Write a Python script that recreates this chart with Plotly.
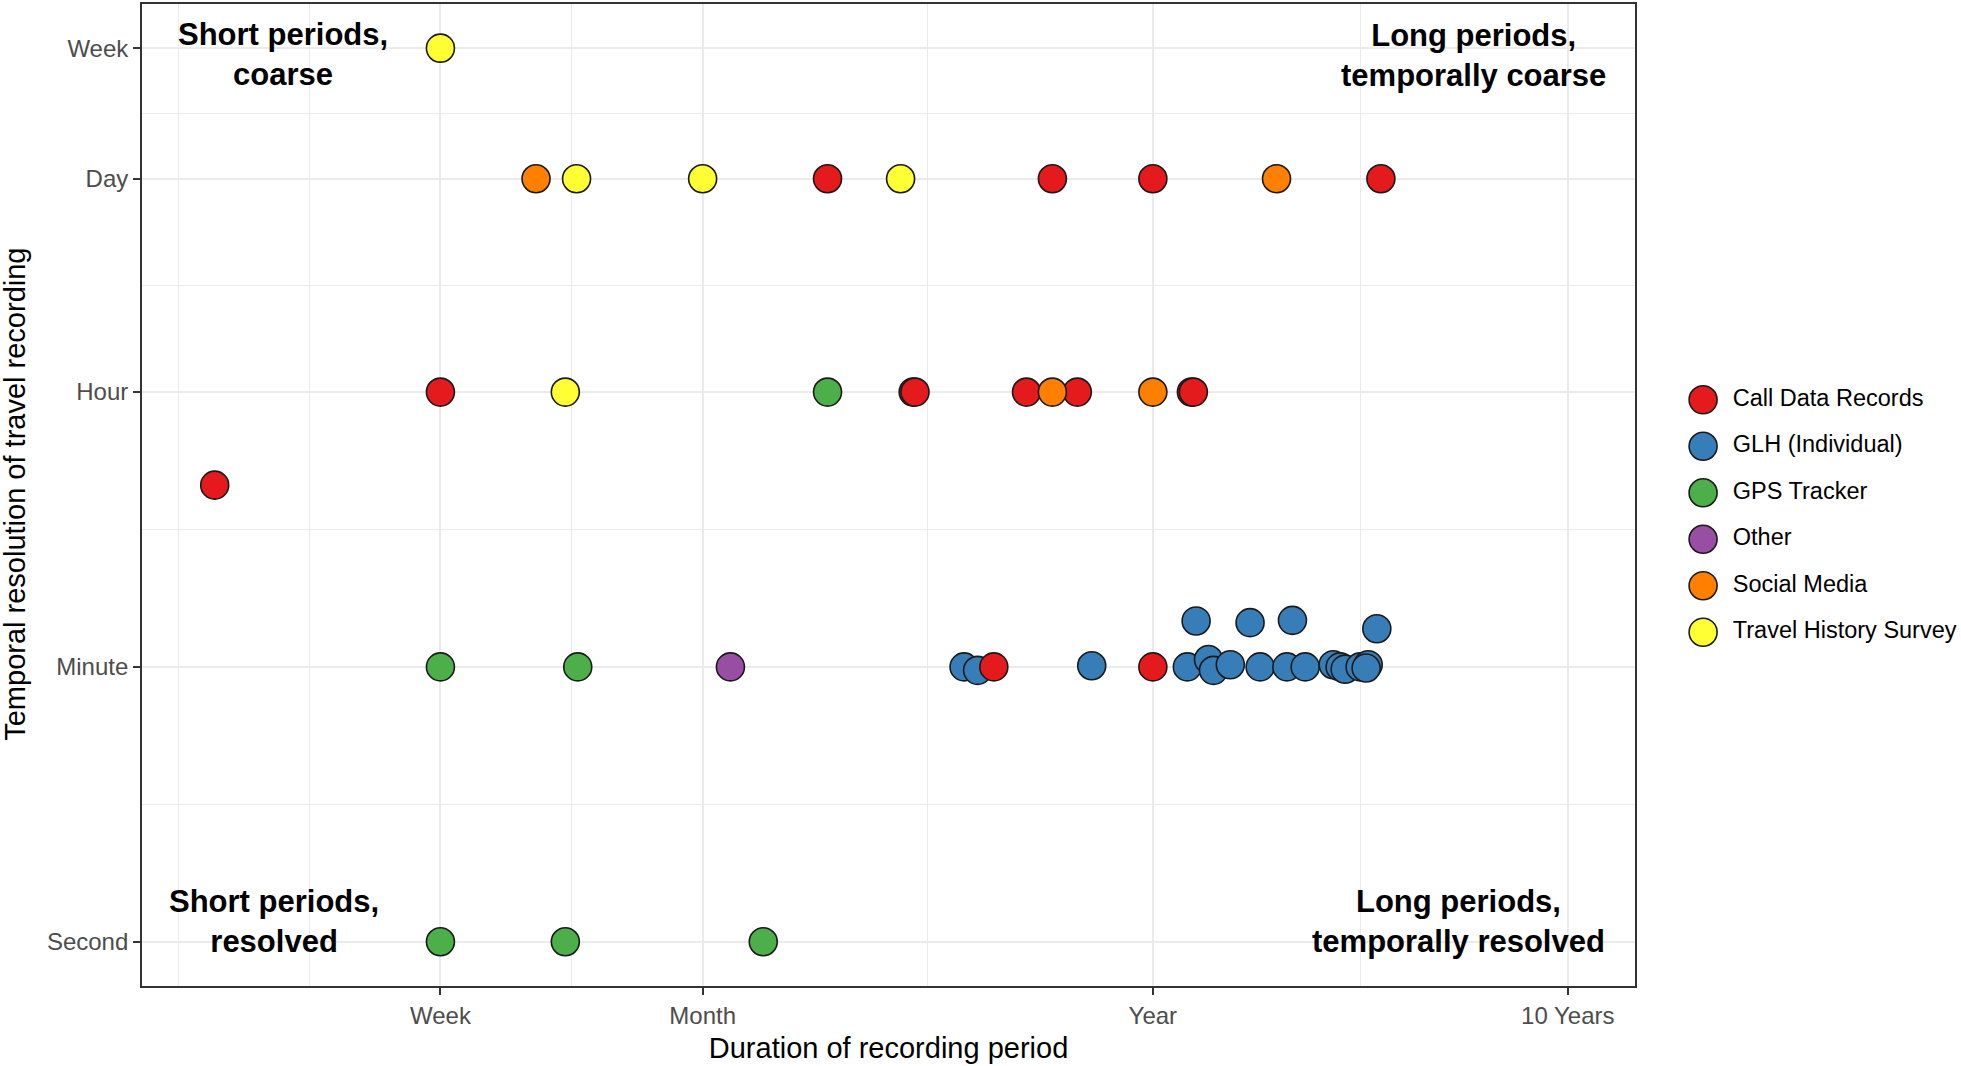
import numpy as np
import plotly.graph_objects as go

# ---------------- data (duration in days, resolution in seconds) ----------------
categories = ["Call Data Records", "GLH (Individual)", "GPS Tracker",
              "Other", "Social Media", "Travel History Survey"]
colors = ["#E41A1C", "#377EB8", "#4DAF4A", "#984EA3", "#FF7F00", "#FFFF33"]

cdr_days = [60, 209, 365, 1294, 7, 96.5, 97.5, 181, 240, 452, 457, 151, 365, 2]
cdr_secs = [86400, 86400, 86400, 86400, 3600, 3600, 3600, 3600, 3600, 3600, 3600, 60, 60, 900]

glh_days = [128, 138, 260, 442, 497, 511, 561, 662, 768, 850, 993, 1032, 1061, 1153, 1206, 1192,
            464, 626, 792, 1265]
glh_secs = [60, 57, 61, 60, 67, 57, 62, 60, 60, 60, 62, 60, 58, 60, 62, 59,
            119, 116, 120, 106]

gps_days = [60, 7, 15, 7, 14, 42]
gps_secs = [3600, 60, 60, 1, 1, 1]

other_days = [35]
other_secs = [60]

social_days = [11.9, 725, 209, 365]
social_secs = [86400, 86400, 3600, 3600]

survey_days = [7, 14.9, 30, 90, 14]
survey_secs = [604800, 86400, 86400, 86400, 3600]

x_tickvals = [7, 30, 365, 3650]
x_ticktext = ["Week", "Month", "Year", "10 Years"]
y_tickvals = [1, 60, 3600, 86400, 604800]
y_ticktext = ["Second", "Minute", "Hour", "Day", "Week"]

x_minor = [1.633, 3.38, 14.49, 104.6, 1154.2]
y_minor = [7.746, 464.8, 17636, 228592]

quadrant_labels = ["Short periods,<br>coarse", "Long periods,<br>temporally coarse",
                   "Short periods,<br>resolved", "Long periods,<br>temporally resolved"]

FONT = "Liberation Sans, Arial, sans-serif"

series = {
    "GLH (Individual)": (glh_days, glh_secs),
    "Call Data Records": (cdr_days, cdr_secs),
    "GPS Tracker": (gps_days, gps_secs),
    "Other": (other_days, other_secs),
    "Social Media": (social_days, social_secs),
    "Travel History Survey": (survey_days, survey_secs),
}

fig = go.Figure()
for name, (xs, ys) in series.items():
    col = colors[categories.index(name)]
    fig.add_trace(go.Scatter(
        x=xs, y=ys, mode="markers", name=name, showlegend=False,
        marker=dict(size=28, color=col, line=dict(color="#1a1a1a", width=1.6)),
        xaxis="x", yaxis="y"))

# custom legend (large keys like ggplot)
idx = list(range(len(categories)))
fig.add_trace(go.Scatter(
    x=[0.166] * len(categories), y=idx, mode="markers", showlegend=False,
    marker=dict(size=28, color=colors, line=dict(color="#1a1a1a", width=1.6)),
    xaxis="x2", yaxis="y2", hoverinfo="skip"))
fig.add_trace(go.Scatter(
    x=[0.262] * len(categories), y=idx, mode="text", text=categories,
    textposition="middle right", showlegend=False,
    textfont=dict(family=FONT, size=23.5, color="#000000"),
    xaxis="x2", yaxis="y2", hoverinfo="skip"))

W, H = 1961, 1066
ml, mt, mb = 141.5, 3.5, 80
paper_w = W - ml
paper_h = H - mb - mt
main_right = 1635
xdom = (main_right - ml) / paper_w

axis_common = dict(
    showline=True, linecolor="#333333", linewidth=1.8, mirror=True,
    ticks="outside", ticklen=7, tickwidth=1.5, tickcolor="#333333",
    showgrid=True, gridcolor="#EBEBEB", gridwidth=1.8, zeroline=False,
    tickfont=dict(family=FONT, size=24, color="#4D4D4D"),
)

# legend rows at 399.5 + 46.5*i px from top
leg_top = 399.5
leg_step = 46.5
y2_range = [(H - mb - leg_top) / leg_step, (mt - leg_top) / leg_step]

fig.update_layout(
    width=W, height=H,
    margin=dict(l=ml, r=0, t=mt, b=mb, pad=0),
    paper_bgcolor="white", plot_bgcolor="white",
    xaxis=dict(
        type="log", range=[0.1258, 3.7246], domain=[0, xdom],
        tickmode="array", tickvals=x_tickvals, ticktext=x_ticktext,
        minor=dict(tickmode="array", tickvals=x_minor, showgrid=True,
                   gridcolor="#EBEBEB", gridwidth=1, ticks=""),
        title=dict(text="Duration of recording period",
                   font=dict(family=FONT, size=29, color="#000000"), standoff=10),
        **axis_common),
    yaxis=dict(
        type="log", range=[-0.2866, 6.0674], domain=[0, 1],
        tickmode="array", tickvals=y_tickvals, ticktext=y_ticktext,
        minor=dict(tickmode="array", tickvals=y_minor, showgrid=True,
                   gridcolor="#EBEBEB", gridwidth=1, ticks=""),
        **axis_common),
    xaxis2=dict(domain=[0.83, 1], range=[0, 1], visible=False, fixedrange=True),
    yaxis2=dict(domain=[0, 1], range=y2_range, visible=False,
                anchor="x2", fixedrange=True),
    font=dict(family=FONT),
)

# y-axis title
fig.add_annotation(
    text="Temporal resolution of travel recording", textangle=-90,
    xref="paper", yref="paper", x=(15 - ml) / paper_w, y=(H - mb - 494) / paper_h,
    xanchor="center", yanchor="middle", showarrow=False,
    font=dict(family=FONT, size=29, color="#000000"))

qpos = [(282.5, 54), (1473, 55), (274, 921), (1458, 921)]
for txt, (px, py) in zip(quadrant_labels, qpos):
    fig.add_annotation(
        text="<b>" + txt + "</b>", xref="paper", yref="paper",
        x=(px - ml) / paper_w, y=(H - mb - py) / paper_h,
        xanchor="center", yanchor="middle", showarrow=False, align="center",
        font=dict(family=FONT, size=31, color="#000000"))

fig.write_html("out.html", config={"displayModeBar": False},
               post_script="document.body.style.margin='0px';document.body.style.padding='0px';")
